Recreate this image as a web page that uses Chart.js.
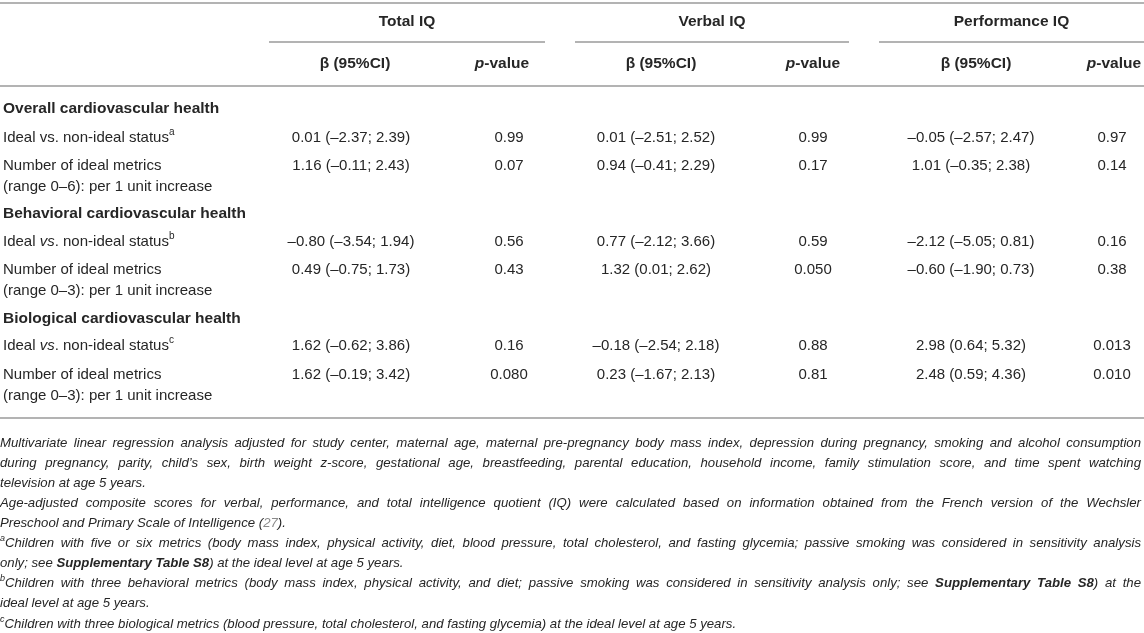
<!DOCTYPE html>
<html>
<head>
<meta charset="utf-8">
<title>IQ and cardiovascular health</title>
<script src="https://cdn.jsdelivr.net/npm/chart.js"></script>
<style>
  html, body { margin: 0; padding: 0; background: #ffffff; }
  #wrap { width: 1144px; height: 633px; }
</style>
</head>
<body>
<div id="wrap"><canvas id="tableChart" width="1144" height="633"></canvas></div>
<script>
// Table content
const groups = ["Total IQ", "Verbal IQ", "Performance IQ"];
const subHeaders = ["β (95%CI)", "*p*-value"];
const sections = [
  "Overall cardiovascular health",
  "Behavioral cardiovascular health",
  "Biological cardiovascular health",
];
const rowLabels = [
  "Ideal vs. non-ideal status^a",
  "Number of ideal metrics\n(range 0–6): per 1 unit increase",
  "Ideal *vs*. non-ideal status^b",
  "Number of ideal metrics\n(range 0–3): per 1 unit increase",
  "Ideal *vs*. non-ideal status^c",
  "Number of ideal metrics\n(range 0–3): per 1 unit increase",
];
const totalBeta = ["0.01 (–2.37; 2.39)", "1.16 (–0.11; 2.43)", "–0.80 (–3.54; 1.94)", "0.49 (–0.75; 1.73)", "1.62 (–0.62; 3.86)", "1.62 (–0.19; 3.42)"];
const totalP = ["0.99", "0.07", "0.56", "0.43", "0.16", "0.080"];
const verbalBeta = ["0.01 (–2.51; 2.52)", "0.94 (–0.41; 2.29)", "0.77 (–2.12; 3.66)", "1.32 (0.01; 2.62)", "–0.18 (–2.54; 2.18)", "0.23 (–1.67; 2.13)"];
const verbalP = ["0.99", "0.17", "0.59", "0.050", "0.88", "0.81"];
const perfBeta = ["–0.05 (–2.57; 2.47)", "1.01 (–0.35; 2.38)", "–2.12 (–5.05; 0.81)", "–0.60 (–1.90; 0.73)", "2.98 (0.64; 5.32)", "2.48 (0.59; 4.36)"];
const perfP = ["0.97", "0.14", "0.16", "0.38", "0.013", "0.010"];

// footnote lines, broken as in the reference; true = justified line
const footnotes = [
  ["Multivariate linear regression analysis adjusted for study center, maternal age, maternal pre-pregnancy body mass index, depression during pregnancy, smoking and alcohol consumption", true],
  ["during pregnancy, parity, child’s sex, birth weight z-score, gestational age, breastfeeding, parental education, household income, family stimulation score, and time spent watching", true],
  ["television at age 5 years.", false],
  ["Age-adjusted composite scores for verbal, performance, and total intelligence quotient (IQ) were calculated based on information obtained from the French version of the Wechsler", true],
  ["Preschool and Primary Scale of Intelligence ([27]).", false],
  ["^aChildren with five or six metrics (body mass index, physical activity, diet, blood pressure, total cholesterol, and fasting glycemia; passive smoking was considered in sensitivity analysis", true],
  ["only; see **Supplementary Table S8**) at the ideal level at age 5 years.", false],
  ["^bChildren with three behavioral metrics (body mass index, physical activity, and diet; passive smoking was considered in sensitivity analysis only; see **Supplementary Table S8**) at the", true],
  ["ideal level at age 5 years.", false],
  ["^cChildren with three biological metrics (blood pressure, total cholesterol, and fasting glycemia) at the ideal level at age 5 years.", false],
];

// layout (pixel units of the hidden scales)
const W = 1144, H = 633;
const FAMILY = '"Liberation Sans", Arial, Helvetica, sans-serif';
const TEXT = "#262626";
const LINK = "#8a8a8a";
const RULE = "#b3b3b3";
const FONT = 15;
const BOLD_FONT = 15.5;
const NOTE_FONT = 13.2;
const TEXT_DY = 2;
const LABEL_X = 3;
const COL_X = [351, 509, 656, 813, 971, 1112];
const HEAD_X = [355, 502, 661, 813, 976, 1114];
const GROUP_SPAN = [[269, 545], [575, 849], [879, 1144]];
const GROUP_Y = 20, GROUP_RULE_Y = 42, SUB_Y = 62;
const RULES_Y = [3, 86, 418];
const SECTION_Y = [107, 212, 317];
const ROW_Y = [136, 164, 240, 268, 344, 373];
const LINE_GAP = 21;
const NOTE_Y = 442, NOTE_GAP = 20.1, NOTE_RIGHT = 1141;

// tiny markup: **bold**, *italic*, ^x superscript, [link]
function parseRich(str, base) {
  const runs = [];
  let bold = false, ital = false, link = false;
  const push = (ch, sup) => {
    const st = { bold: base.bold !== bold, italic: base.italic !== ital, link: link, sup: sup };
    const last = runs[runs.length - 1];
    if (last && last.bold === st.bold && last.italic === st.italic && last.link === st.link && last.sup === st.sup) {
      last.t += ch;
    } else {
      runs.push(Object.assign({ t: ch }, st));
    }
  };
  let i = 0;
  while (i < str.length) {
    const c = str[i];
    if (c === "*" && str[i + 1] === "*") { bold = !bold; i += 2; continue; }
    if (c === "*") { ital = !ital; i++; continue; }
    if (c === "[") { link = true; i++; continue; }
    if (c === "]") { link = false; i++; continue; }
    if (c === "^") { push(str[i + 1], true); i += 2; continue; }
    push(c, false);
    i++;
  }
  return runs;
}

function fontFor(run, size) {
  const s = run.sup ? Math.round(size * 0.68) : size;
  return (run.italic ? "italic " : "") + (run.bold ? "bold " : "") + s + "px " + FAMILY;
}

function runsWidth(ctx, runs, size) {
  let w = 0;
  runs.forEach((r) => { ctx.font = fontFor(r, size); w += ctx.measureText(r.t).width; });
  return w;
}

function drawRuns(ctx, runs, x, y, size) {
  runs.forEach((r) => {
    ctx.font = fontFor(r, size);
    ctx.fillStyle = r.link ? LINK : TEXT;
    ctx.fillText(r.t, x, r.sup ? y - size * 0.36 : y);
    x += ctx.measureText(r.t).width;
  });
}

function drawRich(ctx, str, x, y, size, base, align) {
  const runs = parseRich(str, base);
  const w = runsWidth(ctx, runs, size);
  const x0 = align === "center" ? x - w / 2 : x;
  drawRuns(ctx, runs, x0, y, size);
}

// justified line: spread words between left and right edge
function drawJustified(ctx, str, left, right, y, size, base) {
  const runs = parseRich(str, base);
  const words = [[]];
  runs.forEach((r) => {
    const parts = r.t.split(" ");
    parts.forEach((p, k) => {
      if (k > 0) words.push([]);
      if (p) words[words.length - 1].push(Object.assign({}, r, { t: p }));
    });
  });
  const widths = words.map((wd) => runsWidth(ctx, wd, size));
  const sum = widths.reduce((a, b) => a + b, 0);
  const full = right - left;
  let gap = (full - sum) / (words.length - 1);
  let sx = 1;
  if (gap < 2) {
    gap = 2;
    sx = full / (sum + gap * (words.length - 1));
  }
  ctx.save();
  ctx.translate(left, 0);
  ctx.scale(sx, 1);
  let x = 0;
  words.forEach((wd, k) => {
    drawRuns(ctx, wd, x, y, size);
    x += widths[k] + gap;
  });
  ctx.restore();
}

const columns = [totalBeta, totalP, verbalBeta, verbalP, perfBeta, perfP];

const tablePlugin = {
  id: "tableText",
  afterDatasetsDraw(chart) {
    const ctx = chart.ctx;
    const sx = chart.scales.x, sy = chart.scales.y;
    const px = (v) => sx.getPixelForValue(v);
    const py = (v) => sy.getPixelForValue(v);
    const plain = { bold: false, italic: false };
    const strong = { bold: true, italic: false };
    ctx.save();
    ctx.textBaseline = "middle";

    // horizontal rules
    ctx.strokeStyle = RULE;
    ctx.lineWidth = 2;
    RULES_Y.forEach((ry) => {
      ctx.beginPath();
      ctx.moveTo(px(0), py(ry));
      ctx.lineTo(px(W), py(ry));
      ctx.stroke();
    });
    GROUP_SPAN.forEach((span) => {
      ctx.beginPath();
      ctx.moveTo(px(span[0]), py(GROUP_RULE_Y));
      ctx.lineTo(px(span[1]), py(GROUP_RULE_Y));
      ctx.stroke();
    });

    // header rows
    groups.forEach((g, k) => {
      const mid = (GROUP_SPAN[k][0] + GROUP_SPAN[k][1]) / 2;
      drawRich(ctx, g, px(mid), py(GROUP_Y + TEXT_DY), BOLD_FONT, strong, "center");
      drawRich(ctx, subHeaders[0], px(HEAD_X[k * 2]), py(SUB_Y + TEXT_DY), BOLD_FONT, strong, "center");
      drawRich(ctx, subHeaders[1], px(HEAD_X[k * 2 + 1]), py(SUB_Y + TEXT_DY), BOLD_FONT, strong, "center");
    });

    // section titles and row labels
    sections.forEach((s, k) => {
      drawRich(ctx, s, px(LABEL_X), py(SECTION_Y[k] + TEXT_DY), BOLD_FONT, strong, "left");
    });
    rowLabels.forEach((lab, r) => {
      lab.split("\n").forEach((line, j) => {
        drawRich(ctx, line, px(LABEL_X), py(ROW_Y[r] + j * LINE_GAP + TEXT_DY), FONT, plain, "left");
      });
    });

    // cell values, placed at each (hidden) point of the scatter datasets
    chart.data.datasets.forEach((ds, d) => {
      chart.getDatasetMeta(d).data.forEach((el, i) => {
        drawRich(ctx, ds.texts[i], el.x, el.y + TEXT_DY, FONT, plain, "center");
      });
    });

    // footnotes
    const ital = { bold: false, italic: true };
    footnotes.forEach((fn, k) => {
      const y = py(NOTE_Y + k * NOTE_GAP + 1);
      if (fn[1]) drawJustified(ctx, fn[0], px(0), px(NOTE_RIGHT), y, NOTE_FONT, ital);
      else drawRich(ctx, fn[0], px(0), y, NOTE_FONT, ital, "left");
    });
    ctx.restore();
  },
};

const datasets = columns.map((vals, c) => ({
  label: "col" + c,
  data: vals.map((v, i) => ({ x: COL_X[c], y: ROW_Y[i] })),
  texts: vals,
  pointRadius: 0,
  pointHoverRadius: 0,
  showLine: false,
}));

new Chart(document.getElementById("tableChart"), {
  type: "scatter",
  data: { datasets: datasets },
  options: {
    responsive: false,
    animation: false,
    events: [],
    layout: { padding: 0 },
    plugins: { legend: { display: false }, tooltip: { enabled: false } },
    scales: {
      x: { type: "linear", display: false, min: 0, max: W },
      y: { type: "linear", display: false, min: 0, max: H, reverse: true },
    },
  },
  plugins: [tablePlugin],
});
</script>
</body>
</html>
